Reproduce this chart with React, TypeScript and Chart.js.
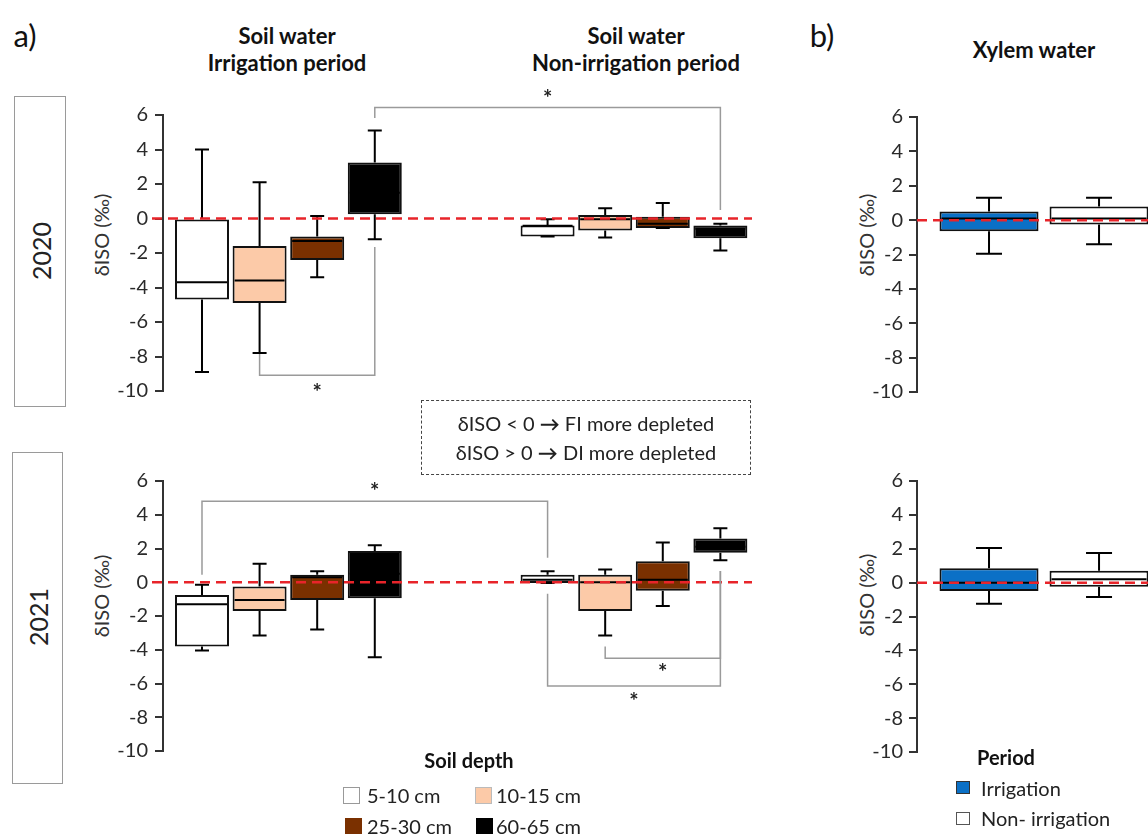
import React, { useEffect, useRef } from 'react';
import { Chart, registerables } from 'chart.js';

Chart.register(...registerables);
Chart.defaults.font.family = 'Lato, "Open Sans", sans-serif';

// ---------- data ----------
// five-number summaries: [min, q1, median, q3, max]  (δISO, ‰)
const depthLabels = ['5-10 cm', '10-15 cm', '25-30 cm', '60-65 cm'];
const depthColors = ['#ffffff', '#fccaa8', '#7a3000', '#000000'];
const periodLabels = ['Irrigation', 'Non- irrigation'];
const periodColors = ['#0b70c6', '#ffffff'];
const yTickValues = [-10, -8, -6, -4, -2, 0, 2, 4, 6];

const soil2020Irrigation: number[][] = [
  [-8.9, -4.7, -3.7, 0.0, 4.0],
  [-7.8, -4.9, -3.6, -1.6, 2.1],
  [-3.4, -2.4, -1.3, -1.05, 0.15],
  [-1.2, 0.25, 1.5, 3.25, 5.1],
];
const soil2020NonIrrigation: number[][] = [
  [-1.05, -1.05, -0.42, -0.4, -0.05],
  [-1.1, -0.7, -0.05, 0.2, 0.6],
  [-0.55, -0.55, -0.3, 0.1, 0.9],
  [-1.85, -1.15, -0.6, -0.4, -0.3],
];
const soil2021Irrigation: number[][] = [
  [-4.05, -3.8, -1.3, -0.75, -0.15],
  [-3.15, -1.7, -1.05, -0.25, 1.1],
  [-2.8, -1.05, 0.3, 0.45, 0.65],
  [-4.45, -0.95, 0.5, 1.85, 2.2],
];
const soil2021NonIrrigation: number[][] = [
  [-0.05, -0.05, 0.15, 0.45, 0.65],
  [-3.15, -1.7, 0.0, 0.45, 0.75],
  [-1.4, -0.5, 0.15, 1.25, 2.35],
  [1.3, 1.75, 2.1, 2.6, 3.2],
];
const xylem2020: number[][] = [
  [-1.95, -0.65, 0.1, 0.5, 1.3],
  [-1.4, -0.25, 0.1, 0.8, 1.3],
];
const xylem2021: number[][] = [
  [-1.25, -0.5, 0.0, 0.85, 2.05],
  [-0.85, -0.25, 0.2, 0.7, 1.75],
];

// significance brackets: box indices (0-3 irrigation, 4-7 non-irrigation) and δISO levels
type Bracket = { from: number; to: number; fromY: number; barY: number; toY: number; starY: number };
const sig2020: Bracket[] = [
  { from: 3, to: 7, fromY: 5.83, barY: 6.43, toY: 0.49, starY: 7.2 },
  { from: 1, to: 3, fromY: -7.85, barY: -9.08, toY: -1.65, starY: -9.83 },
];
const sig2021: Bracket[] = [
  { from: 0, to: 4, fromY: 0.45, barY: 4.8, toY: 1.45, starY: 5.65 },
  { from: 4, to: 7, fromY: -0.68, barY: -6.15, toY: 0.67, starY: -6.8 },
  { from: 5, to: 7, fromY: -3.8, barY: -4.5, toY: 0.67, starY: -5.1 },
];

// slot index of each box on the soil-water x axis (a gap separates the two periods)
const soilSlots = [0, 1, 2, 3, 6, 7, 8, 9];
const xylemSlots = [0, 1];

// ---------- chart ----------
type BoxChartProps = {
  left: number; top: number; width: number; height: number;
  pad: { left: number; right: number; top: number; bottom: number };
  yAxisWidth: number;
  slots: number[];
  boxes: number[][];
  colors: string[];
  xMin: number; xMax: number;
  barPct: number;
  capWidth: number;
  brackets: Bracket[];
  zeroExtend: number;
  tickPadding: number;
};

function makeExtras(p: BoxChartProps) {
  return {
    id: 'boxExtras',
    afterDatasetsDraw(chart: any) {
      const { ctx, chartArea, scales } = chart;
      const xS = scales.x;
      const yS = scales.y;
      const meta = chart.getDatasetMeta(0);
      ctx.save();
      ctx.lineCap = 'butt';
      ctx.strokeStyle = '#000';
      ctx.lineWidth = 2;
      p.boxes.forEach((b, i) => {
        const cx = xS.getPixelForValue(p.slots[i]);
        const w = meta.data[i].width;
        const [mn, q1, md, q3, mx] = b.map((v) => yS.getPixelForValue(v));
        const hc = p.capWidth / 2;
        ctx.beginPath();
        ctx.moveTo(cx, q3); ctx.lineTo(cx, mx);
        ctx.moveTo(cx - hc, mx); ctx.lineTo(cx + hc, mx);
        ctx.moveTo(cx, q1); ctx.lineTo(cx, mn);
        ctx.moveTo(cx - hc, mn); ctx.lineTo(cx + hc, mn);
        ctx.moveTo(cx - w / 2 + 2, md); ctx.lineTo(cx + w / 2 - 2, md);
        ctx.stroke();
      });
      // zero reference line
      const y0 = yS.getPixelForValue(0);
      ctx.strokeStyle = '#e8242a';
      ctx.lineWidth = 2.5;
      ctx.setLineDash([10, 6]);
      ctx.beginPath();
      ctx.moveTo(chartArea.left - p.zeroExtend, y0);
      ctx.lineTo(chartArea.right, y0);
      ctx.stroke();
      ctx.setLineDash([]);
      // significance brackets
      ctx.strokeStyle = '#9a9a9a';
      ctx.lineWidth = 1.5;
      ctx.fillStyle = '#222';
      ctx.font = 'bold 22px Lato, sans-serif';
      ctx.textAlign = 'center';
      ctx.textBaseline = 'middle';
      p.brackets.forEach((br) => {
        const x1 = xS.getPixelForValue(p.slots[br.from]);
        const x2 = xS.getPixelForValue(p.slots[br.to]);
        const yb = yS.getPixelForValue(br.barY);
        ctx.beginPath();
        ctx.moveTo(x1, yS.getPixelForValue(br.fromY));
        ctx.lineTo(x1, yb);
        ctx.lineTo(x2, yb);
        ctx.lineTo(x2, yS.getPixelForValue(br.toY));
        ctx.stroke();
        ctx.fillText('*', (x1 + x2) / 2, yS.getPixelForValue(br.starY) + 5);
      });
      ctx.restore();
    },
  };
}

function BoxChart(p: BoxChartProps) {
  const ref = useRef<HTMLCanvasElement>(null);
  useEffect(() => {
    const chart = new Chart(ref.current as HTMLCanvasElement, {
      type: 'bar',
      data: {
        datasets: [
          {
            data: p.boxes.map((b, i) => ({ x: p.slots[i], y: [b[1], b[3]] })) as any,
            backgroundColor: p.colors,
            borderColor: '#111',
            borderWidth: 2,
            borderSkipped: false,
            barPercentage: p.barPct,
            categoryPercentage: 1,
          },
        ],
      },
      options: {
        responsive: false,
        animation: false,
        devicePixelRatio: 1,
        events: [],
        layout: { padding: p.pad },
        plugins: { legend: { display: false }, tooltip: { enabled: false } },
        scales: {
          x: {
            type: 'linear',
            display: false,
            offset: false,
            grid: { offset: false },
            min: p.xMin,
            max: p.xMax,
            afterBuildTicks: (s: any) => {
              s.ticks = p.slots.map((v) => ({ value: v }));
            },
          },
          y: {
            min: -10,
            max: 6,
            afterBuildTicks: (s: any) => {
              s.ticks = yTickValues.map((v) => ({ value: v }));
            },
            ticks: { color: '#2a2a2a', font: { size: 20 }, padding: p.tickPadding },
            grid: { drawOnChartArea: false, drawTicks: true, tickLength: 8, color: '#333', lineWidth: 2 },
            border: { display: true, color: '#333', width: 2 },
            afterFit: (s: any) => {
              s.width = p.yAxisWidth;
            },
          },
        },
      } as any,
      plugins: [makeExtras(p)],
    });
    return () => chart.destroy();
  }, []);
  return (
    <canvas
      ref={ref}
      width={p.width}
      height={p.height}
      style={{ position: 'absolute', left: p.left, top: p.top, width: p.width, height: p.height }}
    />
  );
}

// ---------- text helpers ----------
function Txt(props: { x: number; y: number; size: number; bold?: boolean; rotate?: boolean; color?: string; anchor?: 'left' | 'center'; children: React.ReactNode }) {
  const tx = props.anchor === 'left' ? '0' : '-50%';
  return (
    <div
      style={{
        position: 'absolute',
        left: props.x,
        top: props.y,
        fontSize: props.size,
        fontWeight: props.bold ? 700 : 400,
        color: props.color || '#222',
        lineHeight: 1,
        whiteSpace: 'nowrap',
        transform: `translate(${tx}, -50%)${props.rotate ? ' rotate(-90deg)' : ''}`,
      }}
    >
      {props.children}
    </div>
  );
}

function Swatch(props: { x: number; y: number; w: number; h: number; fill: string; border: string }) {
  return (
    <div
      style={{
        position: 'absolute',
        left: props.x,
        top: props.y,
        width: props.w,
        height: props.h,
        background: props.fill,
        border: `1px solid ${props.border}`,
        boxSizing: 'border-box',
      }}
    />
  );
}

const soilColors = [...depthColors, ...depthColors];

export default function App() {
  const leftX = { xMin: -0.677, xMax: 9.549 };
  const rightX = { xMin: -0.6545, xMax: 1.445 };
  return (
    <div
      style={{
        position: 'absolute',
        left: 0,
        top: 0,
        width: 1148,
        height: 834,
        overflow: 'hidden',
        background: '#fff',
        fontFamily: 'Lato, "Open Sans", sans-serif',
        color: '#222',
      }}
    >
      <Txt x={25} y={35} size={31} color="#111">a)</Txt>
      <Txt x={822} y={35} size={31} color="#111">b)</Txt>

      <Txt x={287} y={36} size={22} bold color="#111">Soil water</Txt>
      <Txt x={287} y={63} size={22} bold color="#111">Irrigation period</Txt>
      <Txt x={636} y={36} size={22} bold color="#111">Soil water</Txt>
      <Txt x={636} y={63} size={22} bold color="#111">Non-irrigation period</Txt>
      <Txt x={1034} y={50} size={22} bold color="#111">Xylem water</Txt>

      {/* year boxes */}
      <div style={{ position: 'absolute', left: 14, top: 96, width: 52, height: 311, border: '1.5px solid #9a9a9a', boxSizing: 'border-box' }} />
      <Txt x={41} y={251} size={25} rotate>2020</Txt>
      <div style={{ position: 'absolute', left: 12, top: 452, width: 51, height: 332, border: '1.5px solid #9a9a9a', boxSizing: 'border-box' }} />
      <Txt x={38} y={617} size={25} rotate>2021</Txt>

      {/* y-axis titles */}
      <Txt x={101} y={235} size={20} rotate color="#333">δISO (‰)</Txt>
      <Txt x={101} y={596} size={20} rotate color="#333">δISO (‰)</Txt>
      <Txt x={866} y={235} size={20} rotate color="#333">δISO (‰)</Txt>
      <Txt x={866} y={595} size={20} rotate color="#333">δISO (‰)</Txt>

      <BoxChart
        left={60} top={80} width={700} height={330}
        pad={{ left: 0, right: 8, top: 35, bottom: 17 }}
        yAxisWidth={103}
        slots={soilSlots}
        boxes={[...soil2020Irrigation, ...soil2020NonIrrigation]}
        colors={soilColors}
        {...leftX}
        barPct={0.9375}
        capWidth={14}
        brackets={sig2020}
        zeroExtend={11}
        tickPadding={7}
      />
      <BoxChart
        left={60} top={440} width={700} height={330}
        pad={{ left: 0, right: 8, top: 41, bottom: 12 }}
        yAxisWidth={103}
        slots={soilSlots}
        boxes={[...soil2021Irrigation, ...soil2021NonIrrigation]}
        colors={soilColors}
        {...leftX}
        barPct={0.9375}
        capWidth={14}
        brackets={sig2021}
        zeroExtend={11}
        tickPadding={7}
      />
      <BoxChart
        left={800} top={80} width={348} height={330}
        pad={{ left: 0, right: 0, top: 37, bottom: 16 }}
        yAxisWidth={117}
        slots={xylemSlots}
        boxes={xylem2020}
        colors={periodColors}
        {...rightX}
        barPct={0.9}
        capWidth={26}
        brackets={[]}
        zeroExtend={0}
        tickPadding={6}
      />
      <BoxChart
        left={800} top={440} width={348} height={330}
        pad={{ left: 0, right: 0, top: 41, bottom: 12 }}
        yAxisWidth={117}
        slots={xylemSlots}
        boxes={xylem2021}
        colors={periodColors}
        {...rightX}
        barPct={0.9}
        capWidth={26}
        brackets={[]}
        zeroExtend={0}
        tickPadding={6}
      />

      {/* explanation box */}
      <div style={{ position: 'absolute', left: 421, top: 400, width: 330, height: 75, border: '1.5px dashed #444', boxSizing: 'border-box' }} />
      <Txt x={586} y={423} size={20}>δISO &lt; 0 <b>→</b> FI more depleted</Txt>
      <Txt x={586} y={452} size={20}>δISO &gt; 0 <b>→</b> DI more depleted</Txt>

      {/* soil depth legend */}
      <Txt x={469} y={760} size={20} bold color="#111">Soil depth</Txt>
      <Swatch x={343} y={787} w={17} h={17} fill={depthColors[0]} border="#999" />
      <Txt x={367} y={795} size={20} anchor="left">{depthLabels[0]}</Txt>
      <Swatch x={475} y={787} w={17} h={17} fill={depthColors[1]} border="#bbb" />
      <Txt x={496} y={795} size={20} anchor="left">{depthLabels[1]}</Txt>
      <Swatch x={345} y={818} w={17} h={17} fill={depthColors[2]} border={depthColors[2]} />
      <Txt x={367} y={826} size={20} anchor="left">{depthLabels[2]}</Txt>
      <Swatch x={476} y={818} w={17} h={17} fill={depthColors[3]} border={depthColors[3]} />
      <Txt x={496} y={826} size={20} anchor="left">{depthLabels[3]}</Txt>

      {/* period legend */}
      <Txt x={977} y={757} size={20} bold anchor="left" color="#111">Period</Txt>
      <Swatch x={956} y={781} w={14} h={13} fill={periodColors[0]} border="#333" />
      <Txt x={981} y={788} size={20} anchor="left">{periodLabels[0]}</Txt>
      <Swatch x={956} y={812} w={14} h={13} fill={periodColors[1]} border="#555" />
      <Txt x={981} y={818} size={20} anchor="left">{periodLabels[1]}</Txt>
    </div>
  );
}
